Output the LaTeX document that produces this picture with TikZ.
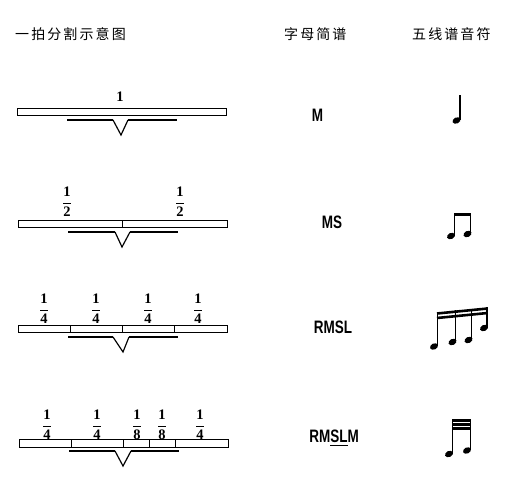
\documentclass[tikz,border=0pt]{standalone}
\usepackage{amsmath}
\usepackage{fontspec}
\setmainfont{Liberation Serif}
\newfontfamily\cjkfont[LetterSpace=15]{Noto Sans CJK SC}
\newfontfamily\letterfont[FakeStretch=0.75]{Liberation Sans Bold}
\newcommand{\beatfrac}[1]{$\genfrac{}{}{0.9pt}{0}{\textbf{1}}{\textbf{#1}}$}

\begin{document}
\begin{tikzpicture}[x=1pt,y=-1pt,
  bar/.style={draw,line width=0.8pt},
  brace/.style={line width=2pt},
  vee/.style={line width=1.2pt},
  title/.style={anchor=west,inner sep=0pt,font=\cjkfont\fontsize{14}{14}\selectfont},
  letters/.style={inner sep=0pt,font=\letterfont\fontsize{18}{18}\selectfont},
  beat/.style={inner sep=0pt,font=\fontsize{14.5}{14.5}\selectfont},
  stem/.style={line width=1.3pt},
  beam/.style={line width=2.6pt}]
  \useasboundingbox (0,0) rectangle (506,495);

  \node[title] (t1) at (15,34) {一拍分割示意图};
  \node[title] (t2) at (284,34) {字母简谱};
  \node[title] (t3) at (412,34) {五线谱音符};

  % row 1
  \draw[bar] (17,108) rectangle (226,115);
  \draw[brace] (67,120) -- (113,120);
  \draw[vee] (113,120) -- (121,135) -- (128,120);
  \draw[brace] (128,120) -- (177,120);
  \node[beat] (b1) at (120,96.5) {\textbf{1}};
  \node[letters] (l1) at (317.5,115) {M};
  \fill[rotate around={25:(456.5,120.5)}] (456.5,120.5) ellipse (4.2 and 3);
  \draw[stem] (460,120) -- (460,95);

  % row 2
  \draw[bar] (18,220) rectangle (227,227);
  \draw[bar] (122,220) -- (122,227);
  \draw[brace] (68,232) -- (115,232);
  \draw[vee] (115,232) -- (122,247) -- (130,232);
  \draw[brace] (130,232) -- (178,232);
  \node[beat] (b2a) at (67,202) {\beatfrac{2}};
  \node[beat] (b2b) at (180,202) {\beatfrac{2}};
  \node[letters] (l2) at (332,222) {MS};
  \fill[rotate around={25:(451,236)}] (451,236) ellipse (4.2 and 3);
  \fill[rotate around={25:(467.5,234)}] (467.5,234) ellipse (4.2 and 3);
  \draw[stem] (454.5,236) -- (454.5,213);
  \draw[stem] (470.5,234) -- (470.5,213);
  \draw[line width=3.4pt] (454,214.5) -- (471,214.5);

  % row 3
  \draw[bar] (18,325) rectangle (227,332);
  \draw[bar] (70,325) -- (70,332);
  \draw[bar] (122,325) -- (122,332);
  \draw[bar] (174,325) -- (174,332);
  \draw[brace] (68,337) -- (113,337);
  \draw[vee] (113,337) -- (123,352) -- (129,337);
  \draw[brace] (129,337) -- (178,337);
  \node[beat] (b3a) at (44,309) {\beatfrac{4}};
  \node[beat] (b3b) at (96,309) {\beatfrac{4}};
  \node[beat] (b3c) at (148,309) {\beatfrac{4}};
  \node[beat] (b3d) at (198,309) {\beatfrac{4}};
  \node[letters] (l3) at (333,327) {RMSL};
  \fill[rotate around={25:(434,346.5)}] (434,346.5) ellipse (4.2 and 3);
  \fill[rotate around={25:(452.5,342)}] (452.5,342) ellipse (4.2 and 3);
  \fill[rotate around={25:(468.5,340)}] (468.5,340) ellipse (4.2 and 3);
  \fill[rotate around={25:(484,328)}] (484,328) ellipse (4.2 and 3);
  \draw[stem] (437.5,346) -- (437.5,312);
  \draw[stem] (455.5,342) -- (455.5,310);
  \draw[stem] (471.5,340) -- (471.5,309);
  \draw[stem] (487,328) -- (487,307);
  \draw[beam] (437,313.5) -- (487.6,308.5);
  \draw[beam] (437,318) -- (487.6,313);

  % row 4
  \draw[bar] (19,439) rectangle (228,447);
  \draw[bar] (71,439) -- (71,447);
  \draw[bar] (123,439) -- (123,447);
  \draw[bar] (149,439) -- (149,447);
  \draw[bar] (175,439) -- (175,447);
  \draw[brace] (69,451) -- (115,451);
  \draw[vee] (115,451) -- (123,466) -- (131,451);
  \draw[brace] (131,451) -- (179,451);
  \node[beat] (b4a) at (47,425) {\beatfrac{4}};
  \node[beat] (b4b) at (97,425) {\beatfrac{4}};
  \node[beat] (b4c) at (137,425) {\beatfrac{8}};
  \node[beat] (b4d) at (162,425) {\beatfrac{8}};
  \node[beat] (b4e) at (200,425) {\beatfrac{4}};
  \node[letters] (l4) at (334,438) {RM\underline{SL}M};
  \fill[rotate around={25:(449,454)}] (449,454) ellipse (4.2 and 3);
  \fill[rotate around={25:(467,450.5)}] (467,450.5) ellipse (4.2 and 3);
  \draw[stem] (452.7,454) -- (452.7,419);
  \draw[stem] (470.3,450) -- (470.3,419);
  \draw[line width=2.3pt] (452,420.5) -- (471,420.5);
  \draw[line width=2.3pt] (452,424.5) -- (471,424.5);
  \draw[line width=2.3pt] (452,428.5) -- (471,428.5);
\end{tikzpicture}
\end{document}
